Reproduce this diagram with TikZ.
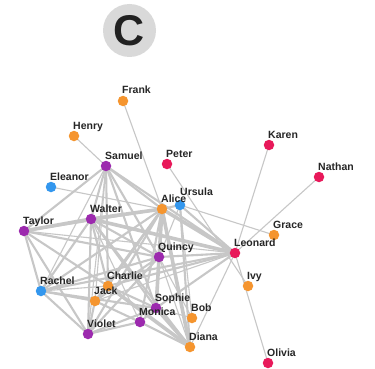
\documentclass[tikz,border=0pt]{standalone}
\usepackage{fontspec}
\setmainfont{Liberation Sans}
\begin{document}
\begin{tikzpicture}[x=1pt,y=-1pt,
  dot/.style={circle,inner sep=0pt,minimum size=10.5pt},
  lab/.style={anchor=base west,inner sep=0pt,font=\fontsize{10.5}{12}\selectfont\bfseries,text=black!85},
  et/.style={draw=black!22,line width=1.1pt},
  em/.style={draw=black!22,line width=2.1pt},
  ek/.style={draw=black!22,line width=3.6pt}]
\definecolor{cpur}{HTML}{9C2AAE}
\definecolor{corg}{HTML}{F5952F}
\definecolor{cred}{HTML}{E8195A}
\definecolor{cblu}{HTML}{3397EE}
\useasboundingbox[fill=white] (0,0) rectangle (375,369);
% badge
\node[circle,fill=black!15,minimum size=53pt,inner sep=0pt] (badge) at (129.5,30.5) {};
\node[font=\fontsize{43}{43}\selectfont\bfseries,text=black!87] (letter) at (badge) {C};
% node coordinates
\coordinate (Frank) at (123,101);
\coordinate (Henry) at (74,136);
\coordinate (Samuel) at (106,166);
\coordinate (Peter) at (167,164);
\coordinate (Eleanor) at (51,187);
\coordinate (Alice) at (162,209);
\coordinate (Ursula) at (180,205);
\coordinate (Walter) at (91,219);
\coordinate (Taylor) at (24,231);
\coordinate (Karen) at (269,145);
\coordinate (Nathan) at (319,177);
\coordinate (Grace) at (274,235);
\coordinate (Leonard) at (235,253);
\coordinate (Quincy) at (159,257);
\coordinate (Ivy) at (248,286);
\coordinate (Rachel) at (41,291);
\coordinate (Charlie) at (108,286);
\coordinate (Jack) at (95,301);
\coordinate (Sophie) at (156,308);
\coordinate (Monica) at (140,322);
\coordinate (Bob) at (192,318);
\coordinate (Violet) at (88,334);
\coordinate (Diana) at (190,347);
\coordinate (Olivia) at (268,363);
% edges
\foreach \a/\b in {Frank/Alice,Henry/Samuel,Eleanor/Alice,Ursula/Grace,Peter/Ivy,Karen/Leonard,Nathan/Leonard,Leonard/Olivia,Leonard/Diana,Bob/Ursula,Bob/Quincy,Samuel/Rachel,Samuel/Violet,Samuel/Jack,Walter/Monica,Taylor/Leonard,Ursula/Quincy,Quincy/Diana,Rachel/Charlie,Jack/Leonard,Sophie/Bob}
  \draw[et] (\a) -- (\b);
\foreach \a/\b in {Samuel/Walter,Samuel/Taylor,Samuel/Alice,Samuel/Leonard,Samuel/Quincy,Samuel/Charlie,Samuel/Sophie,Walter/Quincy,Walter/Violet,Walter/Rachel,Walter/Sophie,Walter/Charlie,Walter/Diana,Taylor/Rachel,Taylor/Violet,Taylor/Quincy,Taylor/Alice,Taylor/Charlie,Alice/Ursula,Alice/Quincy,Alice/Jack,Alice/Rachel,Alice/Violet,Alice/Charlie,Alice/Monica,Ursula/Leonard,Ursula/Diana,Quincy/Leonard,Quincy/Rachel,Quincy/Sophie,Quincy/Jack,Quincy/Violet,Rachel/Violet,Rachel/Jack,Rachel/Sophie,Rachel/Leonard,Charlie/Jack,Charlie/Sophie,Charlie/Leonard,Jack/Violet,Jack/Monica,Violet/Monica,Violet/Sophie,Sophie/Monica,Sophie/Leonard,Monica/Diana}
  \draw[em] (\a) -- (\b);
\foreach \a/\b in {Walter/Taylor,Walter/Alice,Walter/Leonard,Alice/Diana,Alice/Sophie,Alice/Leonard,Charlie/Diana,Sophie/Diana}
  \draw[ek] (\a) -- (\b);
% dots
\foreach \n/\c in {Frank/corg,Henry/corg,Samuel/cpur,Peter/cred,Eleanor/cblu,Alice/corg,Ursula/cblu,Walter/cpur,Taylor/cpur,Karen/cred,Nathan/cred,Grace/corg,Leonard/cred,Quincy/cpur,Ivy/corg,Rachel/cblu,Charlie/corg,Jack/corg,Sophie/cpur,Monica/cpur,Bob/corg,Violet/cpur,Diana/corg,Olivia/cred}
  \node[dot,fill=\c] (d\n) at (\n) {};
% labels
\foreach \n in {Frank,Henry,Samuel,Peter,Eleanor,Alice,Walter,Taylor,Karen,Nathan,Grace,Leonard,Quincy,Ivy,Rachel,Charlie,Jack,Sophie,Monica,Bob,Violet,Diana,Olivia}
  \node[lab] (l\n) at ([shift={(-1,-7)}]\n) {\n};
\node[lab] (lUrsula) at ([shift={(0,-10)}]Ursula) {Ursula};
\end{tikzpicture}
\end{document}
